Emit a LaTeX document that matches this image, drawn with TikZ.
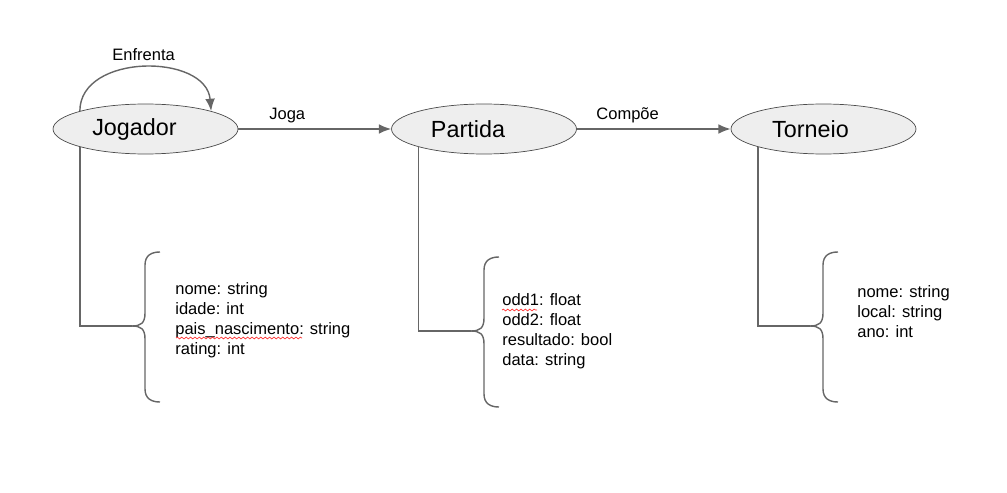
\documentclass[tikz,border=0pt]{standalone}
\usepackage{fontspec}
\setmainfont{Liberation Sans}
\usetikzlibrary{arrows.meta,shapes.geometric,decorations.pathmorphing}
\definecolor{edgegray}{RGB}{102,102,102}
\definecolor{entfill}{RGB}{238,238,238}
\tikzset{
  entity/.style={ellipse,draw=black!70,fill=entfill,minimum width=3.7cm,minimum height=1cm,inner sep=0pt,font=\fontsize{13.3}{16}\selectfont},
  rel/.style={draw=edgegray,line width=0.8pt,-{Latex[length=7pt,width=5.5pt]}},
  lbl/.style={font=\fontsize{9.4}{11.35}\selectfont},
  attrs/.style={anchor=west,align=left,inner sep=0pt,font=\fontsize{9.4}{11.35}\selectfont},
  brace/.style={draw=edgegray,line width=0.8pt},
  squiggle/.style={draw=red!80,line width=0.4pt,decorate,decoration={snake,amplitude=0.5pt,segment length=2.5pt}}
}
\begin{document}
\begin{tikzpicture}[x=0.02cm,y=-0.02cm]
    \useasboundingbox (0,0) rectangle (1007,493);
    % entities
    \node[entity] (jog) at (145.5,129) {Jogador\hspace*{0.44cm}};
    \node[entity] (par) at (484,129) {Partida\hspace*{0.64cm}};
    \node[entity] (tor) at (823.5,129) {Torneio\hspace*{0.52cm}};
    % relations
    \draw[rel] (jog) -- node[lbl,pos=0.32,above=0pt] {Joga} (par);
    \draw[rel] (par) -- node[lbl,pos=0.33,above=0pt] {Compõe} (tor);
    \draw[rel] (jog.north west) .. controls +(0,-58) and +(-5,-58) .. node[lbl,above] {Enfrenta} (jog.north east);
    % brace tips
    \coordinate (jtip) at (132,326);
    \coordinate (ptip) at (471,331);
    \coordinate (ttip) at (810,326);
    \draw[brace] (jog.south west) |- (jtip);
    \draw[brace] (par.south west) |- (ptip);
    \draw[brace] (tor.south west) |- (ttip);
    \foreach \t in {jtip,ptip,ttip} {
        \draw[brace] (\t) .. controls +(9,0) and +(0,10) .. ++(13,-13) -- ++(0,-48) .. controls +(0,-10) and +(-8,0) .. ++(15,-13);
        \draw[brace] (\t) .. controls +(9,0) and +(0,-10) .. ++(13,13) -- ++(0,50) .. controls +(0,10) and +(-8,0) .. ++(15,13);
    }
    % attributes
    \node[attrs] (jattr) at (175,320) {nome: string\\idade: int\\pais\_nascimento: string\\rating: int};
    \node[attrs] (pattr) at (502,331) {odd1: float\\odd2: float\\resultado: bool\\data: string};
    \node[attrs] (tattr) at (857,312) {nome: string\\local: string\\ano: int};
    \draw[squiggle] (176,338) -- (302,338);
    \draw[squiggle] (502,310) -- (537,310);
\end{tikzpicture}
\end{document}
